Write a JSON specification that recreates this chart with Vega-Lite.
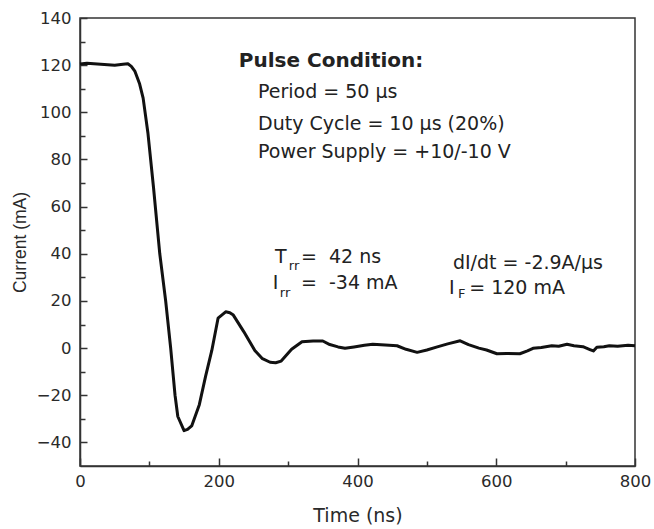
{
  "$schema": "https://vega.github.io/schema/vega-lite/v6.json",
  "width": 555,
  "height": 448,
  "autosize": {"type": "none"},
  "padding": {"left": 80, "top": 18, "right": 19, "bottom": 63},
  "background": "white",
  "config": {
    "view": {"stroke": "#333333", "strokeWidth": 1.5},
    "axis": {
      "grid": false,
      "domainColor": "#333333",
      "domainWidth": 1.5,
      "tickColor": "#333333",
      "tickWidth": 1.5,
      "labelFont": "DejaVu Sans",
      "labelFontSize": 16.5,
      "labelColor": "#2a2a2a",
      "titleFontWeight": "normal",
      "titleColor": "#2a2a2a",
      "labelFlush": false,
      "labelOverlap": false
    },
    "axisX": {"titleFont": "DejaVu Sans", "titleFontSize": 19},
    "axisY": {"titleFont": "Liberation Sans", "titleFontSize": 17.5}
  },
  "datasets": {
    "curve": [
      {"t": 0, "i": 120.5}, {"t": 10, "i": 120.8}, {"t": 30, "i": 120.4}, {"t": 50, "i": 120.0},
      {"t": 62, "i": 120.4}, {"t": 69, "i": 120.6}, {"t": 74, "i": 119.5}, {"t": 79, "i": 117.5},
      {"t": 86, "i": 112}, {"t": 91, "i": 106}, {"t": 98, "i": 91}, {"t": 106, "i": 68},
      {"t": 115, "i": 40}, {"t": 123.5, "i": 20}, {"t": 130.7, "i": 0}, {"t": 137, "i": -20},
      {"t": 141, "i": -29}, {"t": 150, "i": -35}, {"t": 155, "i": -34.5}, {"t": 161, "i": -33},
      {"t": 172, "i": -24}, {"t": 181, "i": -12}, {"t": 190, "i": -1}, {"t": 199, "i": 12.7},
      {"t": 210, "i": 15.4}, {"t": 216, "i": 15}, {"t": 221, "i": 14}, {"t": 236, "i": 7},
      {"t": 252, "i": -1}, {"t": 263, "i": -4.5}, {"t": 274, "i": -6}, {"t": 282, "i": -6.2},
      {"t": 290, "i": -5.5}, {"t": 305, "i": -0.5}, {"t": 320, "i": 2.7}, {"t": 336, "i": 3},
      {"t": 350, "i": 3}, {"t": 360, "i": 1.5}, {"t": 372, "i": 0.5}, {"t": 382, "i": -0.1},
      {"t": 395, "i": 0.5}, {"t": 410, "i": 1.2}, {"t": 422, "i": 1.6}, {"t": 440, "i": 1.3},
      {"t": 457, "i": 1}, {"t": 470, "i": -0.5}, {"t": 486, "i": -1.8}, {"t": 500, "i": -0.8},
      {"t": 515, "i": 0.5}, {"t": 530, "i": 1.8}, {"t": 548, "i": 3.1}, {"t": 560, "i": 1.5},
      {"t": 575, "i": 0}, {"t": 586, "i": -0.8}, {"t": 601, "i": -2.4}, {"t": 615, "i": -2.3},
      {"t": 634, "i": -2.4}, {"t": 645, "i": -1.2}, {"t": 653, "i": -0.1}, {"t": 665, "i": 0.3},
      {"t": 680, "i": 1.0}, {"t": 690, "i": 0.8}, {"t": 702, "i": 1.6}, {"t": 712, "i": 1.0},
      {"t": 725, "i": 0.6}, {"t": 735, "i": -0.6}, {"t": 740, "i": -1.2}, {"t": 745, "i": 0.4},
      {"t": 755, "i": 0.6}, {"t": 763, "i": 1}, {"t": 775, "i": 0.8}, {"t": 790, "i": 1.2},
      {"t": 800, "i": 1}
    ],
    "bold": [
      {"t": 229, "i": 119.2, "label": "Pulse Condition:"}
    ],
    "main": [
      {"t": 256.6, "i": 106, "label": "Period = 50 μs"},
      {"t": 256.6, "i": 92.5, "label": "Duty Cycle = 10 μs (20%)"},
      {"t": 256.6, "i": 80.6, "label": "Power Supply = +10/-10 V"},
      {"t": 281, "i": 36, "label": "T"},
      {"t": 318.5, "i": 36, "label": "=\u00a0\u00a042 ns"},
      {"t": 278, "i": 25, "label": "I"},
      {"t": 318.5, "i": 25, "label": "=\u00a0\u00a0-34 mA"},
      {"t": 537.6, "i": 33.5, "label": "dI/dt = -2.9A/μs"},
      {"t": 532, "i": 22.9, "label": "I"},
      {"t": 561, "i": 22.9, "label": "= 120 mA"}
    ],
    "sub": [
      {"t": 301, "i": 33.1, "label": "rr"},
      {"t": 288, "i": 21.6, "label": "rr"},
      {"t": 545, "i": 21.2, "label": "F"}
    ]
  },
  "encoding": {
    "x": {
      "field": "t", "type": "quantitative",
      "scale": {"domain": [0, 800], "nice": false, "zero": false},
      "axis": {
        "title": "Time (ns)",
        "titlePadding": 14,
        "values": [0, 100, 200, 300, 400, 500, 600, 700, 800],
        "labelExpr": "datum.value % 200 === 0 ? datum.label : ''",
        "tickSize": {"condition": {"test": "datum.value % 200 === 0", "value": -8}, "value": -5},
        "labelPadding": 15
      }
    },
    "y": {
      "field": "i", "type": "quantitative",
      "scale": {"domain": [-50, 140], "nice": false, "zero": false},
      "axis": {
        "title": "Current (mA)",
        "titlePadding": 7,
        "values": [-40, -30, -20, -10, 0, 10, 20, 30, 40, 50, 60, 70, 80, 90, 100, 110, 120, 130, 140],
        "labelExpr": "datum.value % 20 === 0 ? datum.label : ''",
        "tickSize": {"condition": {"test": "datum.value % 20 === 0", "value": -7}, "value": -5},
        "labelPadding": 16
      }
    }
  },
  "layer": [
    {
      "data": {"name": "curve"},
      "mark": {"type": "line", "color": "#111111", "strokeWidth": 3, "strokeJoin": "round"}
    },
    {
      "data": {"name": "bold"},
      "mark": {"type": "text", "align": "left", "baseline": "alphabetic", "font": "DejaVu Sans", "fontSize": 20, "fontWeight": "bold", "color": "#222222"},
      "encoding": {"text": {"field": "label"}}
    },
    {
      "data": {"name": "main"},
      "mark": {"type": "text", "align": "left", "baseline": "alphabetic", "font": "DejaVu Sans", "fontSize": 19, "color": "#222222"},
      "encoding": {"text": {"field": "label"}}
    },
    {
      "data": {"name": "sub"},
      "mark": {"type": "text", "align": "left", "baseline": "alphabetic", "font": "DejaVu Sans", "fontSize": 13, "color": "#222222"},
      "encoding": {"text": {"field": "label"}}
    }
  ]
}
